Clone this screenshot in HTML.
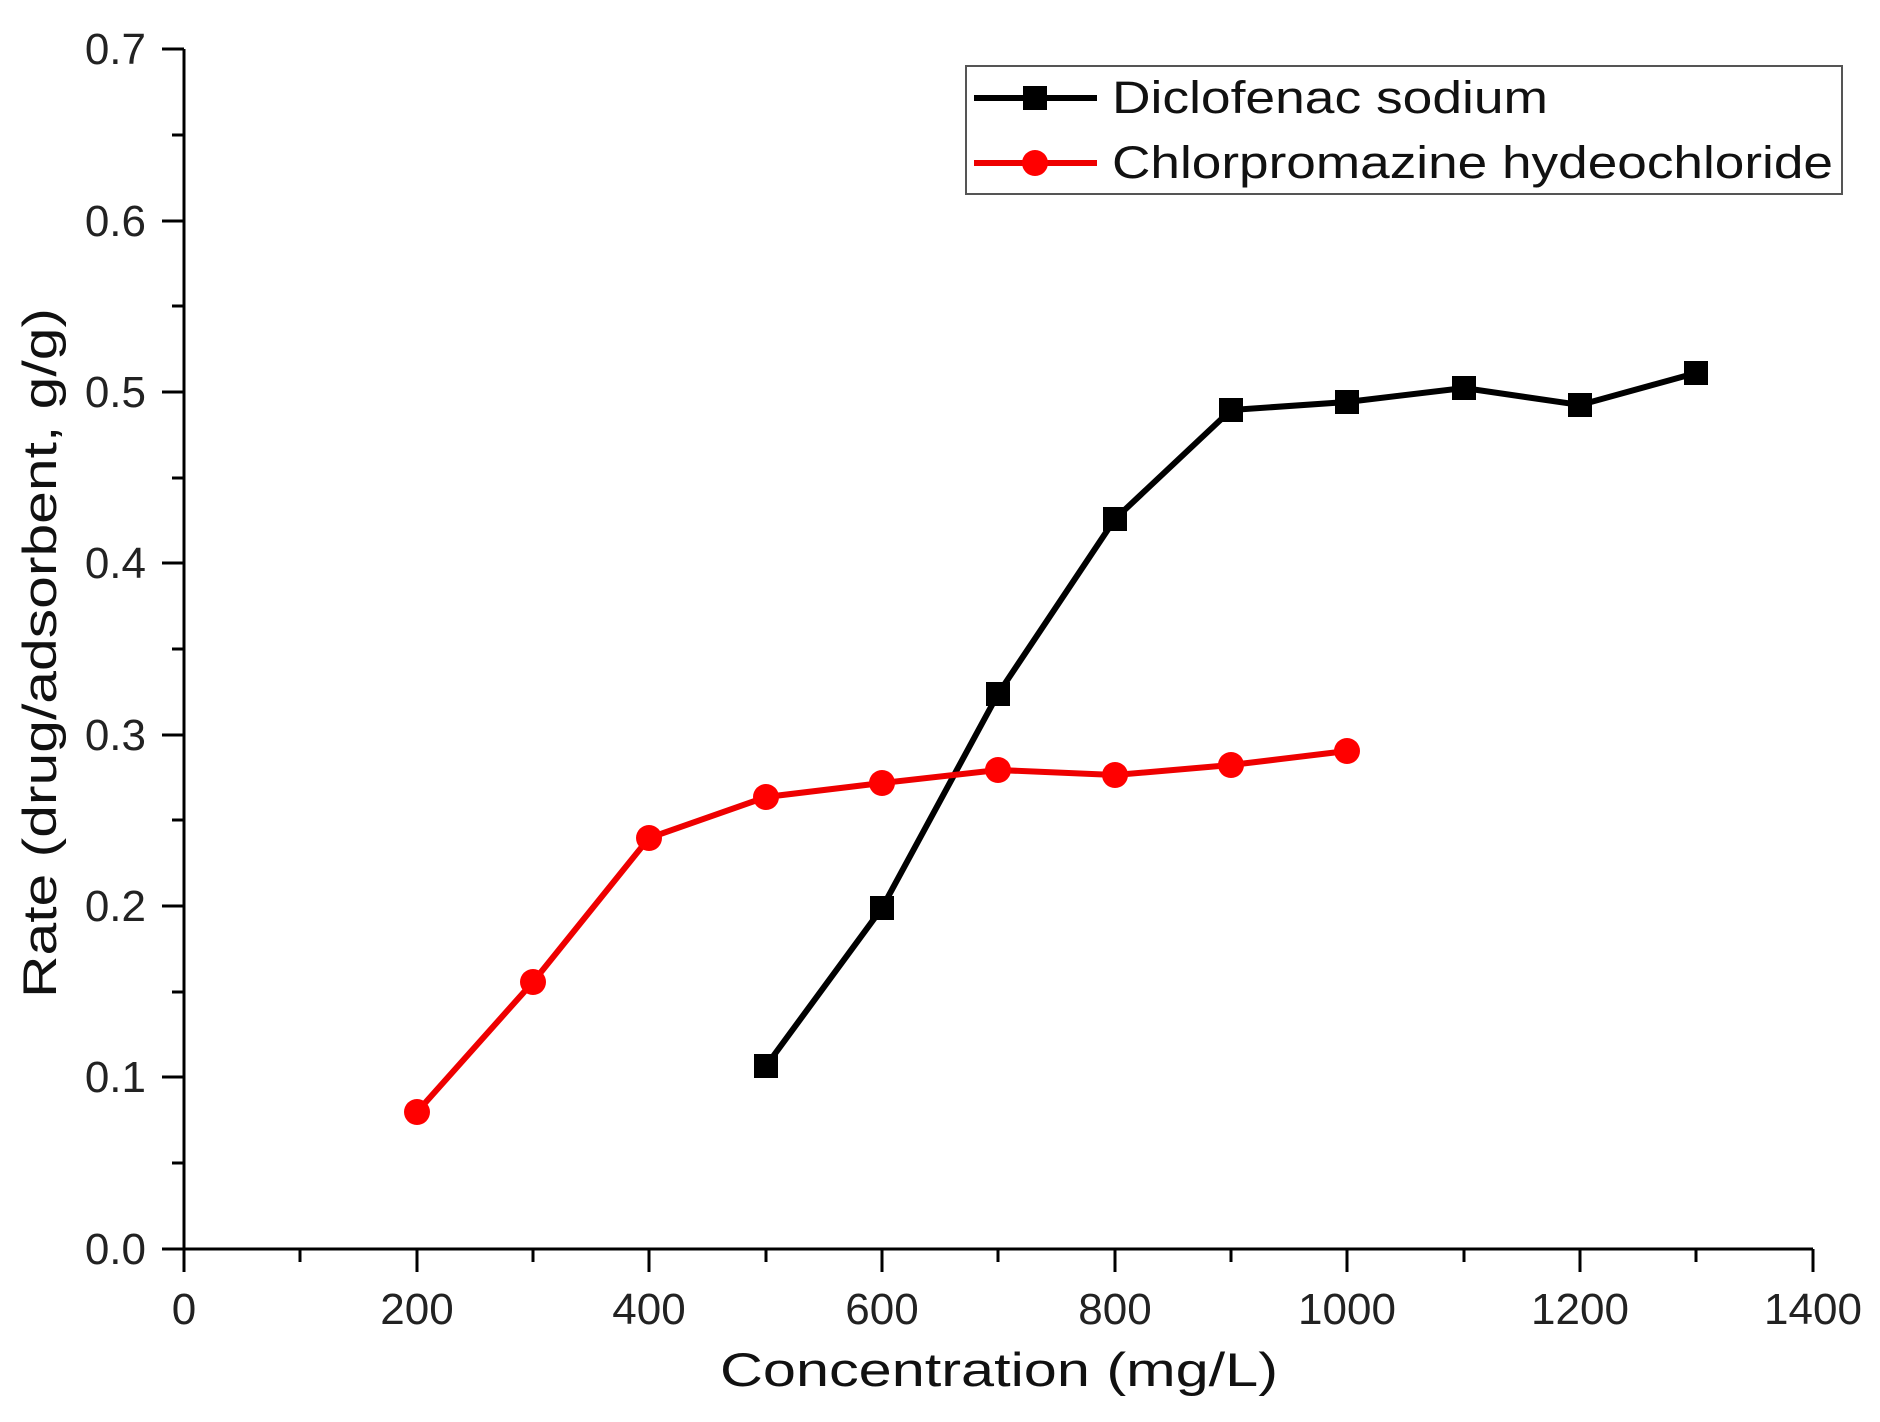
<!DOCTYPE html>
<html><head><style>body{margin:0;background:#fff}svg{display:block}</style></head>
<body>
<svg width="1880" height="1422" xmlns="http://www.w3.org/2000/svg" font-family="Liberation Sans, Arial, sans-serif">
<g stroke="#000" stroke-width="3" fill="none">
<line x1="184" y1="49" x2="184" y2="1249"/>
<line x1="184" y1="1249" x2="1813" y2="1249"/>
</g>
<g stroke="#000" stroke-width="3">
<line x1="162" y1="49" x2="184" y2="49"/><line x1="172" y1="135" x2="184" y2="135"/>
<line x1="162" y1="221" x2="184" y2="221"/><line x1="172" y1="306" x2="184" y2="306"/>
<line x1="162" y1="392" x2="184" y2="392"/><line x1="172" y1="478" x2="184" y2="478"/>
<line x1="162" y1="563" x2="184" y2="563"/><line x1="172" y1="649" x2="184" y2="649"/>
<line x1="162" y1="735" x2="184" y2="735"/><line x1="172" y1="820" x2="184" y2="820"/>
<line x1="162" y1="906" x2="184" y2="906"/><line x1="172" y1="992" x2="184" y2="992"/>
<line x1="162" y1="1077" x2="184" y2="1077"/><line x1="172" y1="1163" x2="184" y2="1163"/>
<line x1="162" y1="1249" x2="184" y2="1249"/>
<line x1="184" y1="1249" x2="184" y2="1272"/><line x1="300" y1="1249" x2="300" y2="1262"/>
<line x1="417" y1="1249" x2="417" y2="1272"/><line x1="533" y1="1249" x2="533" y2="1262"/>
<line x1="649" y1="1249" x2="649" y2="1272"/><line x1="766" y1="1249" x2="766" y2="1262"/>
<line x1="882" y1="1249" x2="882" y2="1272"/><line x1="998" y1="1249" x2="998" y2="1262"/>
<line x1="1115" y1="1249" x2="1115" y2="1272"/><line x1="1231" y1="1249" x2="1231" y2="1262"/>
<line x1="1347" y1="1249" x2="1347" y2="1272"/><line x1="1464" y1="1249" x2="1464" y2="1262"/>
<line x1="1580" y1="1249" x2="1580" y2="1272"/><line x1="1696" y1="1249" x2="1696" y2="1262"/>
<line x1="1813" y1="1249" x2="1813" y2="1272"/>
</g>
<g font-size="44" fill="#222" text-anchor="end">
<text x="146" y="64">0.7</text><text x="146" y="236">0.6</text><text x="146" y="407">0.5</text>
<text x="146" y="578">0.4</text><text x="146" y="750">0.3</text><text x="146" y="921">0.2</text>
<text x="146" y="1092">0.1</text><text x="146" y="1264">0.0</text>
</g>
<g font-size="44" fill="#222" text-anchor="middle">
<text x="184" y="1324">0</text><text x="417" y="1324">200</text><text x="649" y="1324">400</text>
<text x="882" y="1324">600</text><text x="1115" y="1324">800</text><text x="1347" y="1324">1000</text>
<text x="1580" y="1324">1200</text><text x="1813" y="1324">1400</text>
</g>
<text x="999" y="1386" font-size="47" fill="#111" text-anchor="middle" textLength="558" lengthAdjust="spacingAndGlyphs">Concentration (mg/L)</text>
<text transform="translate(56,653) rotate(-90)" font-size="47" fill="#111" text-anchor="middle" textLength="690" lengthAdjust="spacingAndGlyphs">Rate (drug/adsorbent, g/g)</text>
<polyline fill="none" stroke="#000" stroke-width="6" points="766,1066 882,908 998,694 1115,519 1231,410 1347,402 1464,388 1580,405 1696,373"/>
<g fill="#000">
<rect x="754" y="1054" width="24" height="24"/><rect x="870" y="896" width="24" height="24"/>
<rect x="986" y="682" width="24" height="24"/><rect x="1103" y="507" width="24" height="24"/>
<rect x="1219" y="398" width="24" height="24"/><rect x="1335" y="390" width="24" height="24"/>
<rect x="1452" y="376" width="24" height="24"/><rect x="1568" y="393" width="24" height="24"/>
<rect x="1684" y="361" width="24" height="24"/>
</g>
<polyline fill="none" stroke="#e00" stroke-width="6" points="417,1112 533,982 649,838 766,797 882,783 998,770 1115,775 1231,765 1347,751"/>
<g fill="#f00">
<circle cx="417" cy="1112" r="13"/><circle cx="533" cy="982" r="13"/><circle cx="649" cy="838" r="13"/>
<circle cx="766" cy="797" r="13"/><circle cx="882" cy="783" r="13"/><circle cx="998" cy="770" r="13"/>
<circle cx="1115" cy="775" r="13"/><circle cx="1231" cy="765" r="13"/><circle cx="1347" cy="751" r="13"/>
</g>
<rect x="966" y="66" width="876" height="128" fill="#fff" stroke="#555" stroke-width="2"/>
<line x1="974" y1="98" x2="1097" y2="98" stroke="#000" stroke-width="6"/>
<rect x="1023" y="86" width="24" height="24" fill="#000"/>
<line x1="974" y1="163" x2="1097" y2="163" stroke="#e00" stroke-width="6"/>
<circle cx="1035" cy="163" r="13" fill="#f00"/>
<text x="1112" y="113" font-size="45" fill="#111" textLength="436" lengthAdjust="spacingAndGlyphs">Diclofenac sodium</text>
<text x="1112" y="178" font-size="45" fill="#111" textLength="721" lengthAdjust="spacingAndGlyphs">Chlorpromazine hydeochloride</text>
</svg>
</body></html>
